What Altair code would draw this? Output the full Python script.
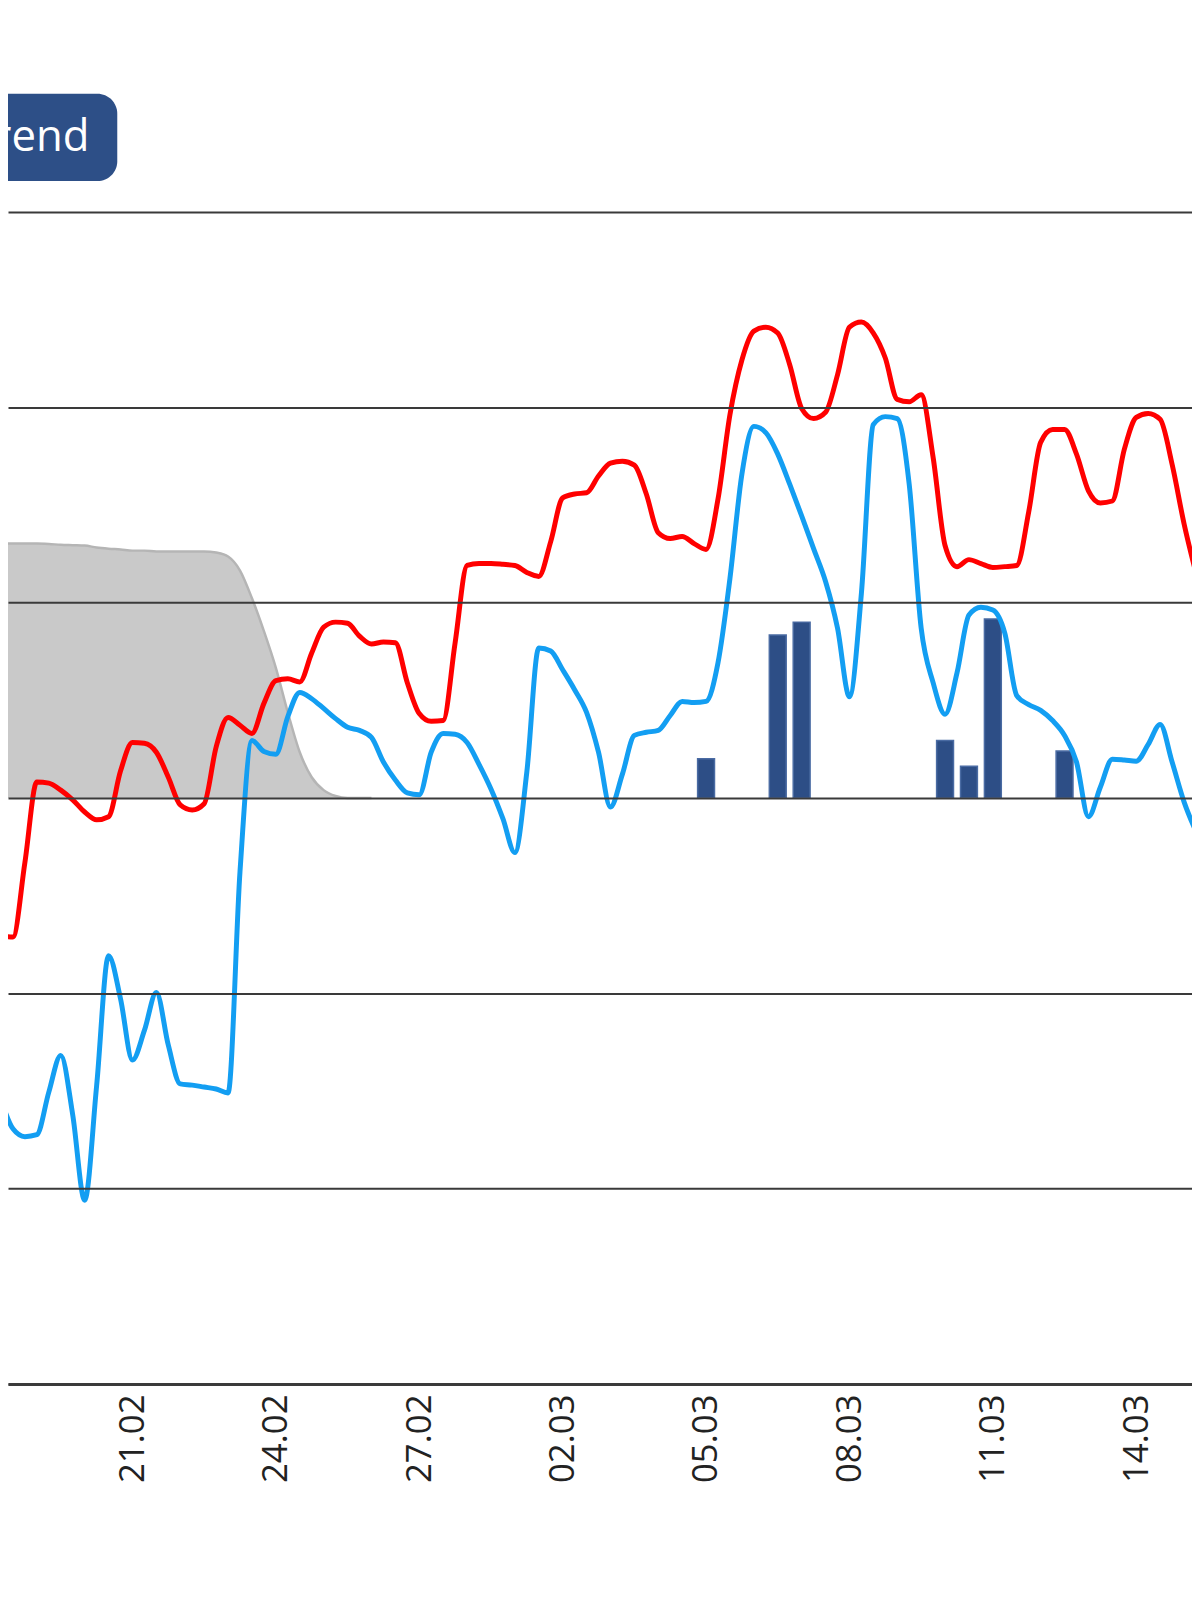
import altair as alt
import pandas as pd

# ---- data (6-hourly samples starting 18.02 06:00 UTC) ----
series_start = "2025-02-18T06:00:00Z"
step_hours = 6

red_values = [
    -3.53, -3.56, -1.65, 0.41, 0.38, 0.20, -0.05, -0.36, -0.56, -0.48, 0.69,
    1.42, 1.40, 1.17, 0.53, -0.18, -0.31, -0.15, 1.30, 2.06, 1.86,
    1.65, 2.42, 3.00, 3.05, 2.97, 3.71, 4.37, 4.50, 4.47, 4.14,
    3.94, 3.99, 3.97, 2.95, 2.16, 1.96, 1.98, 3.97, 5.95, 6.00,
    6.00, 5.98, 5.95, 5.77, 5.67, 6.56, 7.68, 7.78, 7.81, 8.24,
    8.57, 8.62, 8.52, 7.78, 6.79, 6.64, 6.69, 6.51, 6.36, 7.65,
    9.81, 11.21, 11.95, 12.05, 11.90, 11.09, 9.97, 9.71, 9.87, 10.83,
    12.05, 12.18, 11.90, 11.26, 10.20, 10.14, 10.32, 8.72, 6.46, 5.92,
    6.10, 6.00, 5.90, 5.92, 5.95, 7.32, 9.10, 9.43, 9.43, 8.80,
    7.86, 7.55, 7.60, 8.92, 9.74, 9.84, 9.69, 8.54, 7.02, 5.75,
]

blue_values = [
    -7.73, -8.47, -8.67, -8.62, -7.53, -6.59, -8.11, -10.30, -7.37, -4.04, -5.14,
    -6.71, -5.95, -4.98, -6.33, -7.32, -7.35, -7.40, -7.45, -7.55, -1.88,
    1.47, 1.19, 1.12, 2.08, 2.70, 2.54, 2.29, 2.03, 1.81, 1.73,
    1.55, 0.92, 0.46, 0.13, 0.08, 1.17, 1.65, 1.63, 1.42, 0.86,
    0.23, -0.53, -1.40, 0.66, 3.84, 3.76, 3.28, 2.77, 2.19, 1.17,
    -0.23, 0.61, 1.60, 1.68, 1.73, 2.11, 2.47, 2.44, 2.47, 3.46,
    5.62, 8.29, 9.51, 9.35, 8.80, 8.03, 7.22, 6.38, 5.54, 4.35,
    2.59, 5.24, 9.56, 9.76, 9.71, 8.03, 4.35, 2.95, 2.14, 3.20,
    4.68, 4.88, 4.81, 4.22, 2.62, 2.39, 2.24, 1.98, 1.60, 0.92,
    -0.48, 0.28, 0.99, 0.97, 0.94, 1.37, 1.88, 0.92, -0.10, -0.86,
]

snow_values = [
    6.51, 6.51, 6.51, 6.51, 6.50, 6.48, 6.47, 6.46, 6.41, 6.38, 6.36,
    6.33, 6.33, 6.31, 6.31, 6.31, 6.31, 6.31, 6.28, 6.18, 5.82,
    5.11, 4.27, 3.33, 2.19, 1.17, 0.53, 0.20, 0.05, 0.0, 0.0, 0.0,
]

bar_times = [
    "2025-03-05T00:00:00Z", "2025-03-06T12:00:00Z", "2025-03-07T00:00:00Z",
    "2025-03-10T00:00:00Z", "2025-03-10T12:00:00Z", "2025-03-11T00:00:00Z",
    "2025-03-12T12:00:00Z",
]
bar_values = [1.00, 4.17, 4.50, 1.47, 0.81, 4.58, 1.20]

tick_dates = [(2025, 2, 21), (2025, 2, 24), (2025, 2, 27), (2025, 3, 2),
              (2025, 3, 5), (2025, 3, 8), (2025, 3, 11), (2025, 3, 14)]
tick_labels = ["21.02", "24.02", "27.02", "02.03", "05.03", "08.03", "11.03", "14.03"]
grid_values = [-15, -10, -5, 0, 5, 10, 15]
button_label = ["Trend"]

# ---- tables ----
t0 = pd.Timestamp(series_start)


def times(n):
    return [(t0 + pd.Timedelta(hours=step_hours * k)).strftime("%Y-%m-%dT%H:%M:%SZ")
            for k in range(n)]


red_df = pd.DataFrame({"time": times(len(red_values)), "value": red_values})
blue_df = pd.DataFrame({"time": times(len(blue_values)), "value": blue_values})
snow_df = pd.DataFrame({"time": times(len(snow_values)), "value": snow_values})
bar_df = pd.DataFrame({"time": bar_times, "value": bar_values})
btn_df = pd.DataFrame({"label": button_label})

x_scale = alt.Scale(
    type="utc",
    domain=[alt.DateTime(year=2025, month=2, date=18, hours=12, utc=True),
            alt.DateTime(year=2025, month=3, date=15, hours=1, minutes=30, utc=True)],
)
x_axis = alt.Axis(
    values=[alt.DateTime(year=y, month=m, date=d, utc=True) for (y, m, d) in tick_dates],
    labelExpr="utcFormat(datum.value, '%d.%m')",
    labelAngle=-90,
    labelFont="Open Sans",
    labelFontSize=35,
    labelColor="#222222",
    labelPadding=10,
    ticks=False,
    tickSize=0,
    grid=False,
    domain=True,
    domainColor="#3c3c3c",
    domainWidth=3,
    title=None,
)
y_scale = alt.Scale(domain=[-15, 15], nice=False, zero=False)
y_axis = alt.Axis(
    values=grid_values,
    grid=True,
    gridColor="#3a3a3a",
    gridWidth=2,
    labels=False,
    ticks=False,
    domain=False,
    title=None,
    zindex=1,
)

X = alt.X("time:T", scale=x_scale, axis=x_axis)
Y = alt.Y("value:Q", scale=y_scale, axis=y_axis)

snow = alt.Chart(snow_df).mark_area(
    color="#c9c9c9", opacity=1, interpolate="monotone", clip=True,
    line={"color": "#b5b5b5", "strokeWidth": 2.5},
).encode(x=X, y=Y)

bars = alt.Chart(bar_df).mark_bar(
    size=17, color="#2d4e86", stroke="#4a6ba3", strokeWidth=1.5, clip=True,
).encode(x=X, y=Y)

blue = alt.Chart(blue_df).mark_line(
    color="#139ef2", strokeWidth=5, interpolate="monotone", clip=True,
).encode(x=X, y=Y)

red = alt.Chart(red_df).mark_line(
    color="#ff0000", strokeWidth=5, interpolate="monotone", clip=True,
).encode(x=X, y=Y)

button = alt.Chart(btn_df).mark_rect(color="#2d4f87", cornerRadius=20).encode(
    x=alt.value(-60), x2=alt.value(110), y=alt.value(-119), y2=alt.value(-31)
)
button_text = alt.Chart(btn_df).mark_text(
    align="right", baseline="alphabetic", font="Open Sans", fontSize=44,
    fontWeight=500, color="white",
).encode(x=alt.value(82), y=alt.value(-61), text="label:N")

chart = alt.layer(snow, bars, blue, red, button, button_text).properties(
    width=1192,
    height=1180,
    autosize=alt.AutoSizeParams(type="none"),
    padding={"left": 0, "top": 200, "right": 0, "bottom": 180},
    background="white",
).configure_view(stroke=None)

chart.save("out.html", embed_options={"renderer": "svg", "actions": False})
